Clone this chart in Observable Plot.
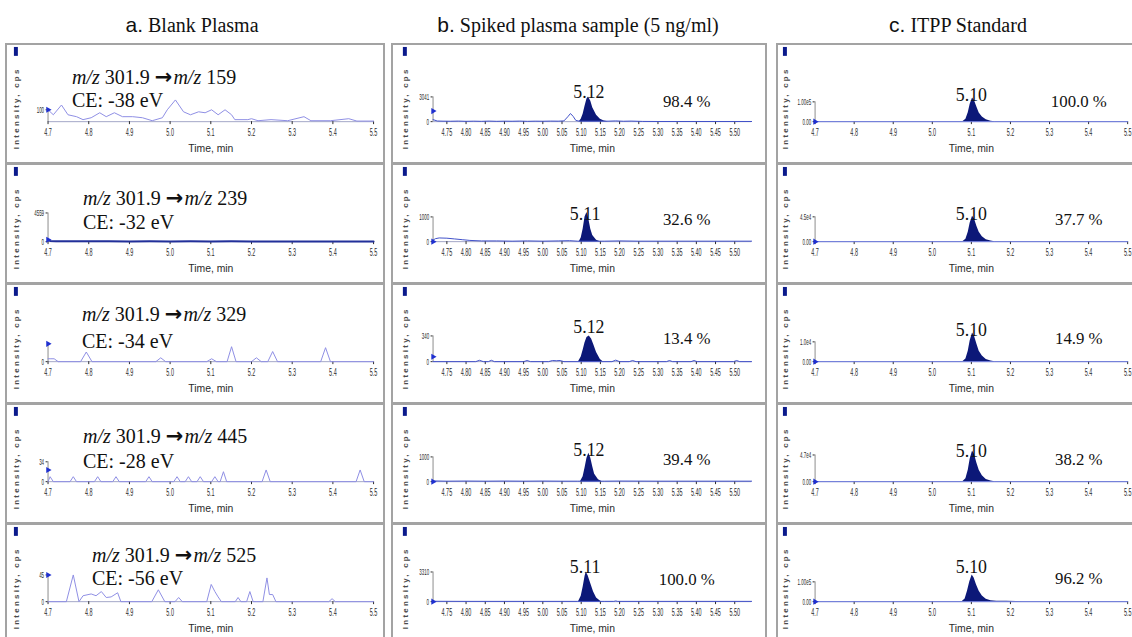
<!DOCTYPE html>
<html><head><meta charset="utf-8">
<script src="https://cdn.jsdelivr.net/npm/d3@7"></script>
<script src="https://cdn.jsdelivr.net/npm/@observablehq/plot@0.6"></script>
<style>
html,body{margin:0;padding:0;background:#fff;}
#root{position:relative;width:1132px;height:637px;overflow:hidden;background:#fff;}
.coltitle{position:absolute;top:13px;font-family:"Liberation Serif","Times New Roman",serif;font-size:20px;color:#111;white-space:nowrap;transform:translateX(-50%);line-height:24px;}
.coltitle .lt{font-family:"Liberation Sans",Arial,sans-serif;font-size:21px;}
.panel{position:absolute;height:121px;box-sizing:border-box;border:2px solid #a3a3a3;background:#fff;overflow:hidden;}
.panel svg{position:absolute;left:-2px;top:-2px;}
.ann{position:absolute;font-family:"Liberation Serif","Times New Roman",serif;font-size:20px;line-height:22px;color:#111;white-space:nowrap;}
.ann .arr{font-family:"DejaVu Sans",sans-serif;font-weight:bold;font-size:21px;margin-right:1px;}
</style></head>
<body><div id="root"></div>
<script>
// ---------- titles ----------
const colLetters = ["a.", "b.", "c."];
const colTitles = ["Blank Plasma", "Spiked plasma sample (5 ng/ml)", "ITPP Standard"];

// ---------- x ticks ----------
const xTicksA = [4.7, 4.8, 4.9, 5.0, 5.1, 5.2, 5.3, 5.4, 5.5];
const xLabelsA = ["4.7", "4.8", "4.9", "5.0", "5.1", "5.2", "5.3", "5.4", "5.5"];
const xTicksB = [4.75, 4.80, 4.85, 4.90, 4.95, 5.00, 5.05, 5.10, 5.15, 5.20, 5.25, 5.30, 5.35, 5.40, 5.45, 5.50];
const xLabelsB = ["4.75", "4.80", "4.85", "4.90", "4.95", "5.00", "5.05", "5.10", "5.15", "5.20", "5.25", "5.30", "5.35", "5.40", "5.45", "5.50"];

// ---------- column a: blank plasma (time, min / intensity, cps) ----------
const mzProducts = ["159", "239", "329", "445", "525"];
const ceValues = ["-38", "-32", "-34", "-28", "-56"];

const a1T = [4.700,4.713,4.733,4.749,4.770,4.786,4.806,4.827,4.843,4.863,4.883,4.908,4.932,4.956,4.981,4.993,5.013,5.033,5.050,5.070,5.086,5.102,5.118,5.135,5.151,5.159,5.191,5.200,5.216,5.248,5.289,5.329,5.346,5.394,5.439,5.459,5.500];
const a1V = [100,58,140,58,42,17,33,75,42,75,42,42,33,8,33,100,183,83,58,83,75,100,58,100,58,17,17,25,8,17,8,42,8,8,25,5,5];

const a2T = [4.700,4.705,4.720,4.750,4.800,4.850,4.900,4.950,5.000,5.050,5.100,5.150,5.200,5.250,5.300,5.350,5.400,5.450,5.500];
const a2V = [300,120,80,60,50,60,40,50,40,50,40,50,40,40,30,40,30,40,30];

const a3T = [4.700,4.705,4.715,4.725,4.780,4.794,4.808,4.965,4.977,4.989,5.090,5.102,5.114,5.140,5.151,5.162,5.200,5.212,5.224,5.240,5.252,5.264,5.370,5.382,5.394,5.500];
const a3V = [0.6,0.6,0.6,0,0,2.0,0,0,0.8,0,0,0.6,0,0,3.1,0,0,0.8,0,0,2.1,0,0,2.9,0,0];

const a4T = [4.700,4.705,4.713,4.754,4.762,4.770,4.814,4.822,4.830,4.859,4.867,4.875,4.940,4.948,4.956,5.009,5.017,5.025,5.037,5.045,5.053,5.066,5.074,5.082,5.102,5.110,5.118,5.123,5.131,5.139,5.226,5.236,5.246,5.457,5.467,5.477,5.500];
const a4V = [0,8.5,0,0,8.5,0,0,8.5,0,0,8.5,0,0,8.5,0,0,8.5,0,0,8.5,0,0,8.5,0,0,8.5,0,0,17,0,0,20,0,0,20,0,0];

const a5T = [4.700,4.745,4.762,4.776,4.786,4.806,4.818,4.831,4.843,4.855,4.871,4.879,4.955,4.971,4.987,5.012,5.021,5.030,5.090,5.101,5.110,5.118,5.126,5.160,5.167,5.174,5.188,5.196,5.204,5.212,5.228,5.238,5.244,5.252,5.260,5.390,5.398,5.406,5.500];
const a5V = [0,0,45,0,10,13,10,17,7,8,15,0,0,20,0,0,7,0,0,29,17,8,0,0,7,0,0,17,0,0,0,40,12,12,0,0,5,0,0];

// ---------- column b: spiked plasma ----------
const bRT = ["5.12", "5.11", "5.12", "5.12", "5.11"];
const bPct = ["98.4 %", "32.6 %", "13.4 %", "39.4 %", "100.0 %"];

const b1NT = [4.714,4.725,4.740,4.760,4.780,4.800,4.820,4.840,4.860,4.880,4.900,4.920,4.940,4.960,4.980,5.000,5.020,5.040,5.055,5.065,5.072,5.079,5.086,5.095,5.170,5.190,5.210,5.230,5.260,5.300,5.350,5.400,5.450,5.500,5.544];
const b1NV = [250,80,60,50,70,40,60,40,70,40,60,50,70,40,60,50,70,60,90,600,1000,650,150,60,60,90,50,70,30,20,20,20,20,20,20];
const b1PT = [5.095,5.100,5.105,5.110,5.115,5.119,5.125,5.130,5.140,5.150,5.160,5.170];
const b1PV = [0,300,900,1900,2800,3041,2500,1700,800,300,80,0];

const b2NT = [4.714,4.720,4.730,4.750,4.770,4.790,4.810,4.840,4.880,4.920,4.960,5.000,5.040,5.070,5.090,5.160,5.200,5.250,5.300,5.400,5.500,5.544];
const b2NV = [60,120,150,140,110,80,50,30,30,20,30,20,30,40,20,20,30,20,20,20,20,20];
const b2PT = [5.095,5.100,5.105,5.110,5.115,5.120,5.125,5.130,5.140,5.150];
const b2PV = [0,150,500,1000,1180,900,500,250,60,0];

const b3NT = [4.714,4.825,4.835,4.845,4.858,4.866,4.874,4.950,4.959,4.968,5.015,5.025,5.035,5.045,5.055,5.180,5.190,5.200,5.225,5.234,5.243,5.322,5.330,5.338,5.386,5.394,5.402,5.497,5.505,5.513,5.544];
const b3NV = [0,0,18,0,0,18,0,0,15,0,0,15,12,15,0,0,20,0,0,15,0,0,15,0,0,15,0,0,15,0,0];
const b3PT = [5.093,5.100,5.105,5.110,5.115,5.121,5.127,5.133,5.140,5.150,5.157];
const b3PV = [0,60,150,250,320,340,300,220,120,30,0];

const b4NT = [4.714,4.750,4.800,4.850,4.900,4.950,5.000,5.050,5.090,5.160,5.200,5.300,5.400,5.500,5.544];
const b4NV = [30,20,25,20,25,20,25,20,20,20,25,20,20,20,20];
const b4PT = [5.098,5.105,5.110,5.115,5.120,5.125,5.130,5.135,5.145,5.155];
const b4PV = [0,200,550,950,1150,950,600,300,80,0];

const b5NT = [4.714,4.800,4.900,5.000,5.090,5.160,5.185,5.190,5.195,5.300,5.400,5.544];
const b5NV = [40,30,30,30,30,30,30,80,30,30,30,30];
const b5PT = [5.093,5.100,5.105,5.110,5.113,5.118,5.125,5.132,5.140,5.152];
const b5PV = [0,600,1600,2800,3300,2900,2000,1100,400,0];

// ---------- column c: ITPP standard ----------
const cRT = ["5.10", "5.10", "5.10", "5.10", "5.10"];
const cPct = ["100.0 %", "37.7 %", "14.9 %", "38.2 %", "96.2 %"];
const cNT = [4.700, 5.078, 5.160, 5.500];
const cNV = [0, 0, 0, 0];

const c1PT = [5.078,5.086,5.092,5.097,5.103,5.108,5.114,5.120,5.128,5.138,5.150,5.160];
const c1PV = [0,12000,45000,88000,120000,106000,74000,44000,23000,9000,2500,0];
const c2PT = [5.078,5.086,5.092,5.097,5.103,5.108,5.114,5.120,5.128,5.138,5.150,5.160];
const c2PV = [0,4500,17000,34000,46000,41000,28000,17000,9000,3500,1000,0];
const c3PT = [5.078,5.086,5.092,5.097,5.103,5.108,5.114,5.120,5.128,5.138,5.150,5.160];
const c3PV = [0,1400,5300,10500,14500,12800,8900,5300,2800,1100,300,0];
const c4PT = [5.078,5.086,5.092,5.097,5.103,5.108,5.114,5.120,5.128,5.138,5.150,5.160];
const c4PV = [0,5200,20000,40000,54000,48000,33000,20000,10500,4000,1200,0];
const c5PT = [5.076,5.084,5.090,5.096,5.102,5.107,5.113,5.120,5.128,5.138,5.150,5.165,5.190,5.215,5.232];
const c5PV = [0,14000,52000,100000,135000,120000,85000,52000,28000,12000,5000,2500,1500,1200,0];

// ---------- panel definitions (scales + data references) ----------
const panels = [
  [ // column a
    {nT:a1T, nV:a1V, yMax:325,  yTicks:[100],    yLabels:["100"],      axisTop:100,  marker:100},
    {nT:a2T, nV:a2V, yMax:6131, yTicks:[0,4559], yLabels:["0","4559"], axisTop:4559, marker:300, heavy:true},
    {nT:a3T, nV:a3V, yMax:8,    yTicks:[0],      yLabels:["0"],        axisTop:3.7,  marker:3.7},
    {nT:a4T, nV:a4V, yMax:66,   yTicks:[0,34],   yLabels:["0","34"],   axisTop:34,   marker:20},
    {nT:a5T, nV:a5V, yMax:65,   yTicks:[0,45],   yLabels:["0","45"],   axisTop:45,   marker:45}
  ],
  [ // column b
    {nT:b1NT, nV:b1NV, pT:b1PT, pV:b1PV, yMax:4744, yTicks:[0,3041], yLabels:["0","3041"], axisTop:3041, marker:1300},
    {nT:b2NT, nV:b2NV, pT:b2PT, pV:b2PV, yMax:1560, yTicks:[0,1000], yLabels:["0","1000"], axisTop:1000, marker:0},
    {nT:b3NT, nV:b3NV, pT:b3PT, pV:b3PV, yMax:510,  yTicks:[0,340],  yLabels:["0","340"],  axisTop:340,  marker:65},
    {nT:b4NT, nV:b4NV, pT:b4PT, pV:b4PV, yMax:1560, yTicks:[0,1000], yLabels:["0","1000"], axisTop:1000, marker:0},
    {nT:b5NT, nV:b5NV, pT:b5PT, pV:b5PV, yMax:4303, yTicks:[0,3310], yLabels:["0","3310"], axisTop:3310, marker:0}
  ],
  [ // column c
    {nT:cNT, nV:cNV, pT:c1PT, pV:c1PV, yMax:195000, yTicks:[0,100000], yLabels:["0.00","1.00e5"], axisTop:100000, marker:0},
    {nT:cNT, nV:cNV, pT:c2PT, pV:c2PV, yMax:70000,  yTicks:[0,45000],  yLabels:["0.00","4.5e4"],  axisTop:45000,  marker:0},
    {nT:cNT, nV:cNV, pT:c3PT, pV:c3PV, yMax:19500,  yTicks:[0,10000],  yLabels:["0.00","1.0e4"],  axisTop:10000,  marker:0},
    {nT:cNT, nV:cNV, pT:c4PT, pV:c4PV, yMax:68000,  yTicks:[0,47000],  yLabels:["0.00","4.7e4"],  axisTop:47000,  marker:0},
    {nT:cNT, nV:cNV, pT:c5PT, pV:c5PV, yMax:195000, yTicks:[0,100000], yLabels:["0.00","1.00e5"], axisTop:100000, marker:0}
  ]
];

// ---------- layout ----------
const colLeft = [5, 391, 776];
const colWidth = [380, 376, 372];
const colTitleX = [192, 578, 958];
const rowTop = [43, 163, 283, 403, 523];
const PH = 120;
const margins = [{l:43, r:8}, {l:42, r:12}, {l:39, r:17}];
const xDomains = [[4.7, 5.5], [4.714, 5.544], [4.7, 5.5]];
const xTicks = [xTicksA, xTicksB, xTicksA];
const xLabels = [xLabelsA, xLabelsB, xLabelsA];
const traceColor = ["#8e8ee4", "#4050c8", "#6a78dc"];
const markX = [9, 12, 7];
const rtOff = [[42,44,37,40,37],[45,44,40,41,37]];
const pctOff = [[52,50,49,50,50],[52,50,49,50,49]];
const mzOff = [34,35,31,33,32], ceOff = [57,59,58,58,55];
const mzX = [72,83,82,83,92];
const serif = "Liberation Serif, Times New Roman, serif";

const root = document.getElementById("root");

colTitles.forEach((t, i) => {
  const d = document.createElement("div");
  d.className = "coltitle";
  d.style.left = colTitleX[i] + "px";
  d.innerHTML = `<span class="lt">${colLetters[i]}</span> ${t}`;
  root.appendChild(d);
});

const compress = [];

for (let ci = 0; ci < 3; ci++) {
  for (let ri = 0; ri < 5; ri++) {
    const p = panels[ci][ri];
    const m = margins[ci];
    const x0 = xDomains[ci][0];
    const trace = p.nT.map((t, i) => ({t, v: p.nV[i]}));
    const peak = p.pT ? p.pT.map((t, i) => ({t, v: p.pV[i]})) : [];
    const marks = [
      Plot.ruleY([0], {stroke: "#a2a6c6", strokeWidth: 1}),
      Plot.ruleX([x0], {y1: 0, y2: p.axisTop, stroke: "#8c8c8c"}),
      Plot.axisX({ticks: xTicks[ci], tickFormat: d => xLabels[ci][xTicks[ci].indexOf(d)], tickSize: 3, tickPadding: 4, fontSize: 11, label: null, color: "#2a2a2a"}),
      Plot.axisY({ticks: p.yTicks, tickFormat: d => p.yLabels[p.yTicks.indexOf(d)], tickSize: 2, tickPadding: 2, fontSize: 10, label: null, color: "#2a2a2a"}),
      Plot.text(["Time, min"], {text: d => d, frameAnchor: "bottom", dy: 31, fontSize: 10.5, fill: "#2a2a2a", ariaLabel: "time-label"}),
      Plot.areaY(peak, {x: "t", y: "v", fill: "#0c1878"}),
      Plot.lineY(trace, {x: "t", y: "v", stroke: p.heavy ? "#22309a" : traceColor[ci], strokeWidth: p.heavy ? 2 : 1}),
      Plot.dot([p.marker], {x: () => x0, y: d => d, symbol: "triangle", rotate: 90, r: 2.3, fill: "#1f30d0", stroke: "none"})
    ];
    if (ci > 0) {
      const rts = ci === 1 ? bRT : cRT;
      const pcts = ci === 1 ? bPct : cPct;
      marks.push(Plot.text([rts[ri]], {x: d => +d, text: d => d, frameAnchor: "top", dy: rtOff[ci-1][ri] - 40, fontSize: 18, fontFamily: serif, fill: "#111"}));
      marks.push(Plot.text([pcts[ri]], {x: () => 5.375, text: d => d, frameAnchor: "top", dy: pctOff[ci-1][ri] - 40, fontSize: 17, fontFamily: serif, fill: "#111"}));
    }
    const svg = Plot.plot({
      width: colWidth[ci], height: PH,
      marginLeft: m.l, marginRight: m.r, marginTop: 40, marginBottom: 41,
      x: {domain: xDomains[ci]},
      y: {domain: [0, p.yMax]},
      style: {background: "transparent", fontFamily: "Liberation Sans, Arial, sans-serif", overflow: "visible"},
      marks
    });
    const s = d3.select(svg);
    s.append("rect").attr("x", markX[ci]).attr("y", 4).attr("width", 4).attr("height", 9).attr("fill", "#0b1a8c");
    s.append("text").attr("transform", `translate(${markX[ci] + 5},66) rotate(-90)`)
      .attr("text-anchor", "middle").attr("font-family", "Liberation Sans, Arial, sans-serif")
      .attr("font-size", 8).attr("font-weight", "bold").attr("letter-spacing", "2.3px").attr("fill", "#4a4a4a")
      .text("Intensity, cps");

    const div = document.createElement("div");
    div.className = "panel";
    div.style.left = colLeft[ci] + "px";
    div.style.top = rowTop[ri] + "px";
    div.style.width = colWidth[ci] + "px";
    div.appendChild(svg);
    if (ci === 0) {
      const l1 = document.createElement("div");
      l1.className = "ann";
      l1.style.left = (mzX[ri] - colLeft[0] - 2) + "px";
      l1.style.top = (mzOff[ri] - 2 - 11) + "px";
      l1.innerHTML = `<i>m/z</i> 301.9 <span class="arr">→</span><i>m/z</i> ${mzProducts[ri]}`;
      const l2 = document.createElement("div");
      l2.className = "ann";
      l2.style.left = (mzX[ri] - colLeft[0] - 2) + "px";
      l2.style.top = (ceOff[ri] - 2 - 11) + "px";
      l2.textContent = `CE: ${ceValues[ri]} eV`;
      div.appendChild(l1); div.appendChild(l2);
    }
    root.appendChild(div);
    compress.push(svg);
  }
}

// condense the small axis texts (instrument-software look)
compress.forEach(svg => {
  const sq = (sel, f) => d3.select(svg).selectAll(sel).each(function () {
    const w = this.getComputedTextLength();
    if (w > 0) { this.setAttribute("textLength", (w * f).toFixed(2)); this.setAttribute("lengthAdjust", "spacingAndGlyphs"); }
  });
  sq("[aria-label='x-axis tick label'] text", 0.5);
  sq("[aria-label='y-axis tick label'] text", 0.45);
  sq("[aria-label='time-label'] text", 0.7);
});
</script>
</body></html>
